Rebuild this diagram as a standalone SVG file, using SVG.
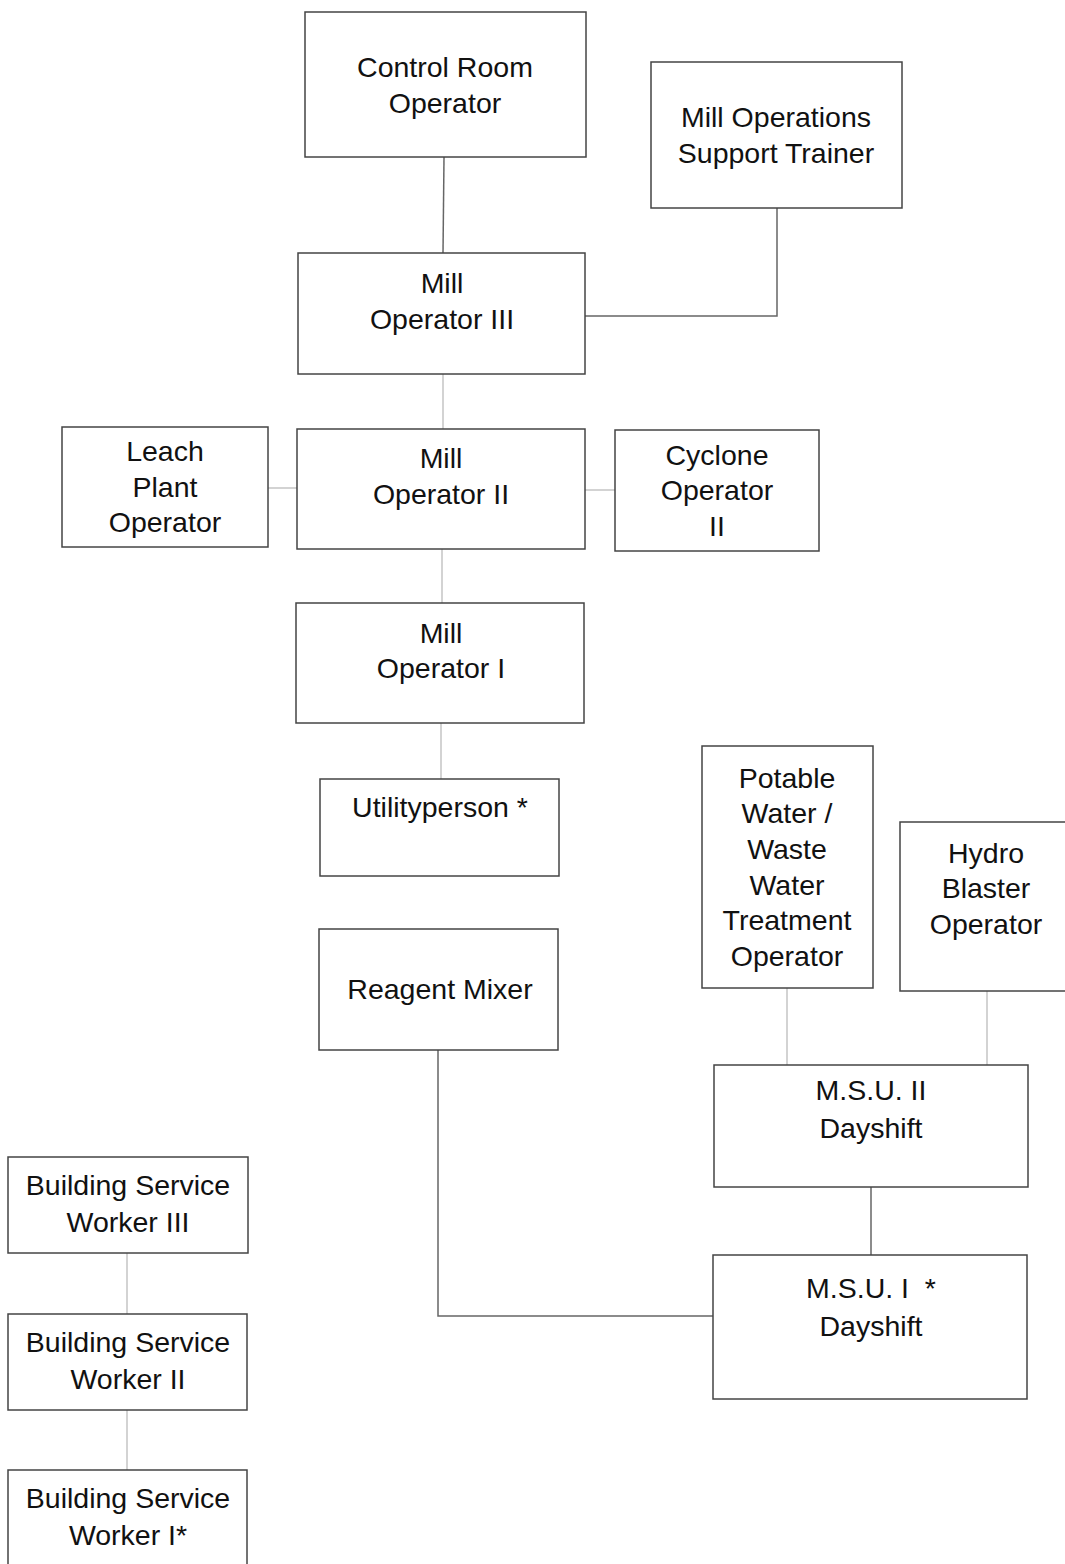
<svg xmlns="http://www.w3.org/2000/svg" width="1065" height="1564" viewBox="0 0 1065 1564">
<style>
.box{fill:#fff;stroke:#444;stroke-width:1.5}
.t{font-family:"Liberation Sans",Arial,sans-serif;font-size:28.5px;fill:#111;text-anchor:middle}
.c{fill:none;stroke:#666;stroke-width:1.5}
.cl{fill:none;stroke:#c4c4c4;stroke-width:1.5}
</style>
<rect width="1065" height="1564" fill="#fff"/>
<g id="connectors">
<line class="c" x1="444" y1="157" x2="443" y2="253"/>
<polyline class="c" points="777,208 777,316 585,316"/>
<line class="cl" x1="443" y1="374" x2="443" y2="429"/>
<line class="cl" x1="268" y1="488" x2="297" y2="488"/>
<line class="cl" x1="585" y1="490" x2="615" y2="490"/>
<line class="cl" x1="442" y1="549" x2="442" y2="603"/>
<line class="cl" x1="441" y1="723" x2="441" y2="779"/>
<line class="cl" x1="787" y1="988" x2="787" y2="1065"/>
<line class="cl" x1="987" y1="991" x2="987" y2="1065"/>
<line class="c" x1="871" y1="1187" x2="871" y2="1255"/>
<polyline class="c" points="438,1050 438,1316 713,1316"/>
<line class="cl" x1="127" y1="1253" x2="127" y2="1314"/>
<line class="cl" x1="127" y1="1410" x2="127" y2="1470"/>
</g>
<g id="control-room-operator"><rect class="box" x="305" y="12" width="281" height="145"/><text class="t" x="445" y="77">Control Room</text><text class="t" x="445" y="113">Operator</text></g>
<g id="mill-operations-support-trainer"><rect class="box" x="651" y="62" width="251" height="146"/><text class="t" x="776" y="127">Mill Operations</text><text class="t" x="776" y="163">Support Trainer</text></g>
<g id="mill-operator-iii"><rect class="box" x="298" y="253" width="287" height="121"/><text class="t" x="442" y="293">Mill</text><text class="t" x="442" y="329">Operator III</text></g>
<g id="leach-plant-operator"><rect class="box" x="62" y="427" width="206" height="120"/><text class="t" x="165" y="461">Leach</text><text class="t" x="165" y="497">Plant</text><text class="t" x="165" y="532">Operator</text></g>
<g id="mill-operator-ii"><rect class="box" x="297" y="429" width="288" height="120"/><text class="t" x="441" y="468">Mill</text><text class="t" x="441" y="504">Operator II</text></g>
<g id="cyclone-operator-ii"><rect class="box" x="615" y="430" width="204" height="121"/><text class="t" x="717" y="465">Cyclone</text><text class="t" x="717" y="500">Operator</text><text class="t" x="717" y="536">II</text></g>
<g id="mill-operator-i"><rect class="box" x="296" y="603" width="288" height="120"/><text class="t" x="441" y="643">Mill</text><text class="t" x="441" y="678">Operator I</text></g>
<g id="utilityperson"><rect class="box" x="320" y="779" width="239" height="97"/><text class="t" x="440" y="817">Utilityperson *</text></g>
<g id="reagent-mixer"><rect class="box" x="319" y="929" width="239" height="121"/><text class="t" x="440" y="999">Reagent Mixer</text></g>
<g id="potable-water"><rect class="box" x="702" y="746" width="171" height="242"/><text class="t" x="787" y="788">Potable</text><text class="t" x="787" y="823">Water /</text><text class="t" x="787" y="859">Waste</text><text class="t" x="787" y="895">Water</text><text class="t" x="787" y="930">Treatment</text><text class="t" x="787" y="966">Operator</text></g>
<g id="hydro-blaster-operator"><rect class="box" x="900" y="822" width="175" height="169"/><text class="t" x="986" y="863">Hydro</text><text class="t" x="986" y="898">Blaster</text><text class="t" x="986" y="934">Operator</text></g>
<g id="msu-ii"><rect class="box" x="714" y="1065" width="314" height="122"/><text class="t" x="871" y="1100">M.S.U. II</text><text class="t" x="871" y="1138">Dayshift</text></g>
<g id="msu-i"><rect class="box" x="713" y="1255" width="314" height="144"/><text class="t" x="871" y="1298">M.S.U. I&#160;&#160;*</text><text class="t" x="871" y="1336">Dayshift</text></g>
<g id="bsw-iii"><rect class="box" x="8" y="1157" width="240" height="96"/><text class="t" x="128" y="1195">Building Service</text><text class="t" x="128" y="1232">Worker III</text></g>
<g id="bsw-ii"><rect class="box" x="8" y="1314" width="239" height="96"/><text class="t" x="128" y="1352">Building Service</text><text class="t" x="128" y="1389">Worker II</text></g>
<g id="bsw-i"><rect class="box" x="8" y="1470" width="239" height="100"/><text class="t" x="128" y="1508">Building Service</text><text class="t" x="128" y="1545">Worker I*</text></g>
</svg>
